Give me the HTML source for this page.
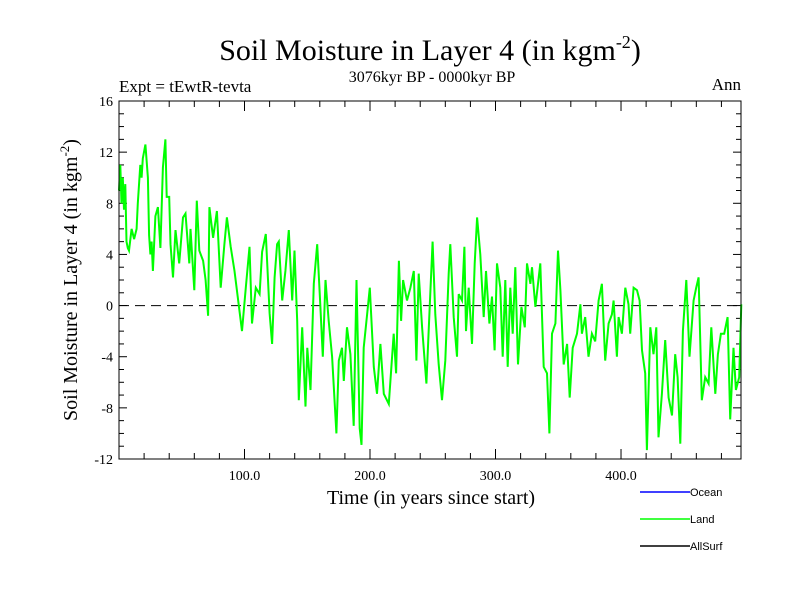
<!DOCTYPE html>
<html><head><meta charset="utf-8"><style>
body{margin:0;background:#fff;width:800px;height:600px;overflow:hidden}
svg text{font-family:"Liberation Serif",serif}
svg text.sans{font-family:"Liberation Sans",sans-serif}
</style></head><body>
<svg id="chart" width="800" height="600" viewBox="0 0 800 600" xmlns="http://www.w3.org/2000/svg">
<text x="430" y="60" font-size="30" text-anchor="middle">Soil Moisture in Layer 4 (in kgm<tspan dy="-12" font-size="18">-2</tspan><tspan dy="12">)</tspan></text>
<text x="432" y="82" font-size="16" text-anchor="middle">3076kyr BP - 0000kyr BP</text>
<text x="119" y="92" font-size="17">Expt = tEwtR-tevta</text>
<text x="741" y="90" font-size="17" text-anchor="end">Ann</text>
<text transform="translate(77,280) rotate(-90)" font-size="20" text-anchor="middle">Soil Moisture in Layer 4 (in kgm<tspan dy="-8" font-size="13">-2</tspan><tspan dy="8">)</tspan></text>
<text x="431" y="504" font-size="20" text-anchor="middle">Time (in years since start)</text>
<g id="ticks"></g>
<line id="zero" stroke="#000" stroke-dasharray="10,6" stroke-width="1"/>
<polyline id="land" fill="none" stroke="#00ff00" stroke-width="2"/>
<rect x="119" y="101" width="622" height="358" fill="none" stroke="#000" stroke-width="1"/>
<g>
<line x1="640" y1="492" x2="690" y2="492" stroke="#0000ff" stroke-width="1.5"/>
<text class="sans" x="690" y="496" font-size="11">Ocean</text>
<line x1="640" y1="519" x2="690" y2="519" stroke="#00ff00" stroke-width="1.5"/>
<text class="sans" x="690" y="523" font-size="11">Land</text>
<line x1="640" y1="546" x2="690" y2="546" stroke="#000" stroke-width="1.5"/>
<text class="sans" x="690" y="550" font-size="11">AllSurf</text>
</g>
</svg>
<script>
const years=[0,1,2,3,4,5,6,7,8,10,12,14,15,17,18,19,21,23,24,25,26,27,29,31,33,35,37,38,40,41,43,45,48,51,53,56,57,60,62,64,67,69,71,72,75,78,81,84,86,89,92,98,101,104,106,109,112,114,117,120,122,124,
126,127.3,130,132.6,135.3,138,139.8,142,143.3,146,148.6,150,152.6,155.2,157.9,160.5,162.4,164.5,167.1,169.8,173.2,175.1,177.7,179.1,181.7,184.4,187,189.2,191.8,193.2,195,197.7,199.8,203,205.6,208.3,211,215,218.9,220.8,223,224.8,226.4,229.5,232.2,234.9,237,238.8,241.5,244.9,247.6,
249.9,252,254.7,257.4,260,262.7,264,266.7,269.3,270.7,273.3,275.2,276.5,278.6,281.3,283.4,285.3,287.9,290.6,292.4,295.1,297.2,299.3,301.2,303.8,305.7,307.8,309.7,311.8,313.7,315.8,317.9,320.6,323.3,325.1,327.8,329.1,331.8,335.7,338.4,341,342.9,345,347.7,349.8,351.7,354.3,357,359.1,361.5,364.9,367.6,
368.8,371.5,374.1,376.8,379.4,382.1,384.8,387.4,390.1,392.7,394.1,396.7,398.1,400.7,403.4,406,407.3,410,412.7,414.8,416.7,419.3,420.6,423.3,425.9,428.1,429.9,432.6,435.2,437.9,440.6,443.2,445.1,447.2,449.3,452,454.6,457.8,459.9,461.8,464.4,467.1,469.8,471.9,475.1,477.2,479.6,482.2,484.9,487,489.6,491.5,494.2,495.8];
const landValues=[9,11,8,10,7.5,9.5,5,4.5,4.3,6,5.2,6,8,11,10,11.5,12.6,10,5.5,4,5,2.7,7,7.7,4.5,10.8,13,8.5,8.5,4.8,2.2,5.9,3.3,6.9,7.2,3.3,6,1.2,8.2,4.3,3.5,2,-0.8,7.7,5.3,7.4,1.4,4.8,6.9,4.6,2.7,-2,1.4,4.6,-1.4,1.4,0.9,4.2,5.6,-0.6,-3,2.2,
4.8,5,0.4,2.7,5.9,0.4,4.3,-1.2,-7.4,-1.7,-7.9,-3.3,-6.6,1.7,4.8,-0.1,-4,2,-1.2,-4,-10,-4.3,-3.3,-5.9,-1.7,-3.8,-9.4,2,-9.6,-10.9,-3.3,-0.7,1.4,-4.8,-6.9,-3,-6.9,-7.7,-2.2,-5.3,3.5,-1.2,2,0.4,1.4,2.7,-4.3,2.5,-1.7,-6.1,-0.1,
5,-0.7,-4.6,-7.4,-4.3,2.5,4.8,-0.9,-4,0.9,0.4,4.6,-2,1.4,-3,3.3,6.9,4,-0.9,2.7,-1.4,0.7,-3.5,3.3,1.4,-4,2,-4.8,1.4,-2.2,3,-4.6,-0.1,-1.7,3.3,1.7,3,-0.1,3.3,-4.8,-5.3,-10,-2.2,-1.4,4.3,1.2,-4.6,-3,-7.2,-3.3,-2.2,0.1,-2.2,
-0.9,-4,-2.2,-2.8,0.4,1.7,-4.3,-1.4,-0.7,0.4,-4,-0.9,-2.2,1.4,0.1,-2.2,1.4,1.2,0.4,-3.5,-5.3,-11.3,-1.7,-3.8,-1.7,-10.3,-6.9,-2.7,-7.2,-8.6,-3.8,-5.6,-10.8,-2,2,-4,0.4,1.4,2.2,-7.4,-5.6,-6.1,-1.7,-6.9,-3.8,-2.2,-2.2,-0.9,-8.9,-3.3,-6.6,-5.6,0.1,-5.9];
const yTickValues=[-12,-8,-4,0,4,8,12,16];
const xTickValues=[100,200,300,400];
const xTickLabels=["100.0","200.0","300.0","400.0"];
const L=119,R=741,T=101,B=459,XMAX=495.6,YMIN=-12,YMAX=16;
const xs=v=>L+(v/XMAX)*(R-L);
const ys=v=>B-(v-YMIN)/(YMAX-YMIN)*(B-T);
const NS="http://www.w3.org/2000/svg";
const g=document.getElementById('ticks');
function ln(x1,y1,x2,y2){const l=document.createElementNS(NS,'line');l.setAttribute('x1',x1);l.setAttribute('y1',y1);l.setAttribute('x2',x2);l.setAttribute('y2',y2);l.setAttribute('stroke','#000');g.appendChild(l);return l;}
for(let v=YMIN;v<=YMAX;v++){const y=ys(v);const major=v%4===0;const len=major?8:5;
const a=ln(L,y,L+len,y);
const b=ln(R-len,y,R,y);}
yTickValues.forEach(v=>{const t=document.createElementNS(NS,'text');t.setAttribute('x',L-6);t.setAttribute('y',ys(v)+5);t.setAttribute('text-anchor','end');t.setAttribute('font-size','14');t.textContent=v;


g.appendChild(t);});
for(let v=20;v<XMAX;v+=20){const x=xs(v);const major=v%100===0;const len=major?10:6;
const a=ln(x,B-len,x,B);
const b=ln(x,T,x,T+len);}
xTickValues.forEach((v,i)=>{const t=document.createElementNS(NS,'text');t.setAttribute('x',xs(v));t.setAttribute('y',B+21);t.setAttribute('text-anchor','middle');t.setAttribute('font-size','14');t.textContent=xTickLabels[i];


g.appendChild(t);});
const z=document.getElementById('zero');z.setAttribute('x1',L);z.setAttribute('x2',R);z.setAttribute('y1',ys(0));z.setAttribute('y2',ys(0));
document.getElementById('land').setAttribute('points',years.map((yr,i)=>xs(yr).toFixed(1)+','+ys(landValues[i]).toFixed(1)).join(' '));
</script>
</body></html>
